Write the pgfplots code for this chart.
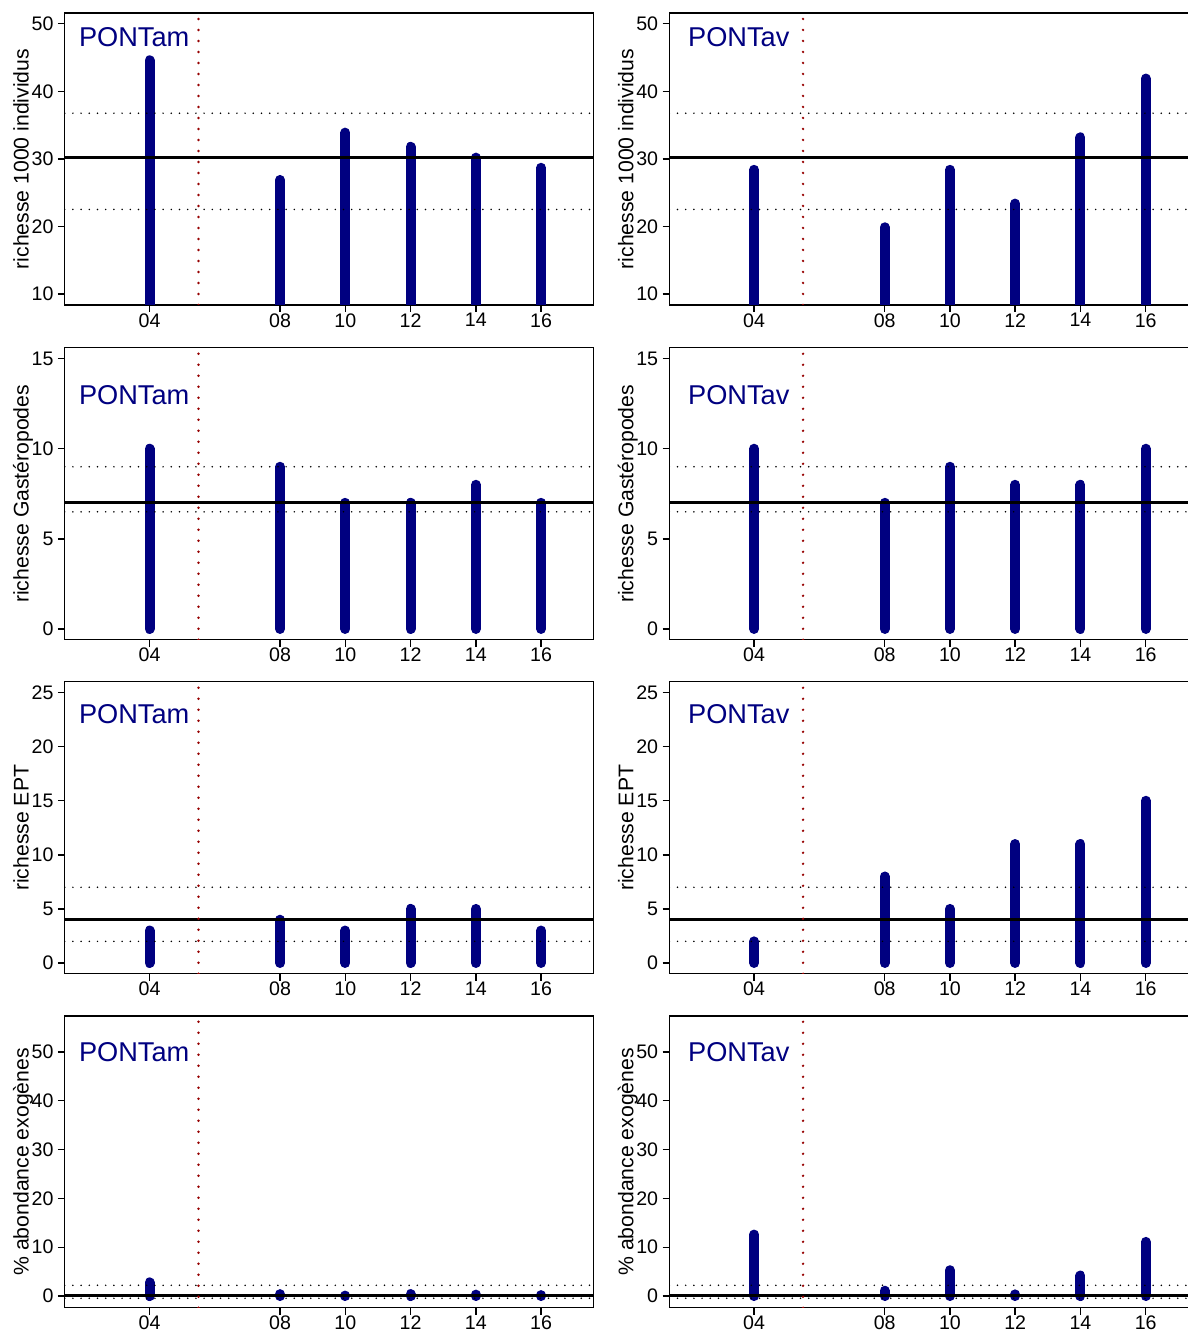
\documentclass[border=0pt]{standalone}
\usepackage{fontspec}
\setmainfont{Liberation Sans}
\usepackage{pgfplots}
\pgfplotsset{compat=1.18}
\definecolor{navyb}{RGB}{0,0,128}
\definecolor{dred}{RGB}{150,0,0}
\tikzset{lab/.style={text=navyb, font=\fontsize{13.6}{14}\selectfont, inner sep=0pt}}
\pgfplotsset{
 panel/.style={
  scale only axis, width=264.3pt, height=146pt,
  xmin=1.4, xmax=17.6,
  xtick={4,8,10,12,14,16}, xticklabels={04,08,10,12,14,16},
  tick pos=left, tick align=outside, major tick length=3.4pt,
  axis line style={line width=0.7pt, black},
  every tick/.append style={line width=0.7pt, black},
  /pgf/number format/assume math mode=true,
  tick label style={font=\fontsize{9.8}{10}\selectfont, inner sep=0pt},
  xticklabel style={yshift=-0.6pt},
  yticklabel style={xshift=-2pt},
  ylabel style={font=\fontsize{10.6}{12}\selectfont, at={(axis description cs:-0.0681,0.5)}, anchor=base},
 },
 bars/.style={ycomb, line width=5pt, line cap=round, color=navyb},
 solidl/.style={line width=1.35pt, black},
 dotl/.style={line width=0.85pt, black, line cap=round, dash pattern=on 0pt off 4.1pt},
 redl/.style={line width=1.35pt, dred, line cap=round, dash pattern=on 0pt off 5.5pt},
}
\begin{document}
\begin{tikzpicture}
% ---------- Row 1 ----------
\begin{axis}[panel, at={(32.35pt,514pt)}, anchor=south west,
  ymin=8.4, ymax=51.6, ytick={10,20,30,40,50}, ylabel={richesse 1000 individus}]
\addplot[bars] coordinates {(4,44.6) (8,26.9) (10,33.9) (12,31.8) (14,30.2) (16,28.7)};
\addplot[solidl] coordinates {(1.4,30.25) (17.6,30.25)};
\addplot[dotl] coordinates {(1.4,36.77) (17.6,36.77)};
\addplot[dotl] coordinates {(1.4,22.54) (17.6,22.54)};
\addplot[redl] coordinates {(5.5,8.4) (5.5,51.6)};
\node[lab] at (axis cs:3.53,48) {PONTam};
\end{axis}
\begin{axis}[panel, at={(334.65pt,514pt)}, anchor=south west,
  ymin=8.4, ymax=51.6, ytick={10,20,30,40,50}, ylabel={richesse 1000 individus}]
\addplot[bars] coordinates {(4,28.4) (8,19.9) (10,28.4) (12,23.4) (14,33.2) (16,41.9)};
\addplot[solidl] coordinates {(1.4,30.25) (17.6,30.25)};
\addplot[dotl] coordinates {(1.4,36.77) (17.6,36.77)};
\addplot[dotl] coordinates {(1.4,22.54) (17.6,22.54)};
\addplot[redl] coordinates {(5.5,8.4) (5.5,51.6)};
\node[lab] at (axis cs:3.53,48) {PONTav};
\end{axis}
% ---------- Row 2 ----------
\begin{axis}[panel, at={(32.35pt,346.6pt)}, anchor=south west,
  ymin=-0.6, ymax=15.6, ytick={0,5,10,15}, ylabel={richesse Gastéropodes}]
\addplot[bars] coordinates {(4,10) (8,9) (10,7) (12,7) (14,8) (16,7)};
\addplot[solidl] coordinates {(1.4,7) (17.6,7)};
\addplot[dotl] coordinates {(1.4,9) (17.6,9)};
\addplot[dotl] coordinates {(1.4,6.5) (17.6,6.5)};
\addplot[redl] coordinates {(5.5,-0.6) (5.5,15.6)};
\node[lab] at (axis cs:3.53,13) {PONTam};
\end{axis}
\begin{axis}[panel, at={(334.65pt,346.6pt)}, anchor=south west,
  ymin=-0.6, ymax=15.6, ytick={0,5,10,15}, ylabel={richesse Gastéropodes}]
\addplot[bars] coordinates {(4,10) (8,7) (10,9) (12,8) (14,8) (16,10)};
\addplot[solidl] coordinates {(1.4,7) (17.6,7)};
\addplot[dotl] coordinates {(1.4,9) (17.6,9)};
\addplot[dotl] coordinates {(1.4,6.5) (17.6,6.5)};
\addplot[redl] coordinates {(5.5,-0.6) (5.5,15.6)};
\node[lab] at (axis cs:3.53,13) {PONTav};
\end{axis}
% ---------- Row 3 ----------
\begin{axis}[panel, at={(32.35pt,179.6pt)}, anchor=south west,
  ymin=-1, ymax=26, ytick={0,5,10,15,20,25}, ylabel={richesse EPT}]
\addplot[bars] coordinates {(4,3) (8,4) (10,3) (12,5) (14,5) (16,3)};
\addplot[solidl] coordinates {(1.4,4) (17.6,4)};
\addplot[dotl] coordinates {(1.4,7) (17.6,7)};
\addplot[dotl] coordinates {(1.4,2) (17.6,2)};
\addplot[redl] coordinates {(5.5,-1) (5.5,26)};
\node[lab] at (axis cs:3.53,23) {PONTam};
\end{axis}
\begin{axis}[panel, at={(334.65pt,179.6pt)}, anchor=south west,
  ymin=-1, ymax=26, ytick={0,5,10,15,20,25}, ylabel={richesse EPT}]
\addplot[bars] coordinates {(4,2) (8,8) (10,5) (12,11) (14,11) (16,15)};
\addplot[solidl] coordinates {(1.4,4) (17.6,4)};
\addplot[dotl] coordinates {(1.4,7) (17.6,7)};
\addplot[dotl] coordinates {(1.4,2) (17.6,2)};
\addplot[redl] coordinates {(5.5,-1) (5.5,26)};
\node[lab] at (axis cs:3.53,23) {PONTav};
\end{axis}
% ---------- Row 4 ----------
\begin{axis}[panel, at={(32.35pt,12.6pt)}, anchor=south west,
  ymin=-2.4, ymax=57.4, ytick={0,10,20,30,40,50}, ylabel={\% abondance exogènes}]
\addplot[bars] coordinates {(4,2.8) (8,0.4) (10,0.1) (12,0.4) (14,0.3) (16,0.2)};
\addplot[solidl] coordinates {(1.4,0.05) (17.6,0.05)};
\addplot[dotl] coordinates {(1.4,2.2) (17.6,2.2)};
\addplot[dotl] coordinates {(1.4,-0.45) (17.6,-0.45)};
\addplot[redl] coordinates {(5.5,-2.4) (5.5,57.4)};
\node[lab] at (axis cs:3.53,50) {PONTam};
\end{axis}
\begin{axis}[panel, at={(334.65pt,12.6pt)}, anchor=south west,
  ymin=-2.4, ymax=57.4, ytick={0,10,20,30,40,50}, ylabel={\% abondance exogènes}]
\addplot[bars] coordinates {(4,12.6) (8,1.1) (10,5.3) (12,0.35) (14,4.2) (16,11.1)};
\addplot[solidl] coordinates {(1.4,0.05) (17.6,0.05)};
\addplot[dotl] coordinates {(1.4,2.2) (17.6,2.2)};
\addplot[dotl] coordinates {(1.4,-0.45) (17.6,-0.45)};
\addplot[redl] coordinates {(5.5,-2.4) (5.5,57.4)};
\node[lab] at (axis cs:3.53,50) {PONTav};
\end{axis}
\pgfresetboundingbox
\useasboundingbox (0,0) rectangle (594pt,666.5pt);
\end{tikzpicture}
\end{document}
